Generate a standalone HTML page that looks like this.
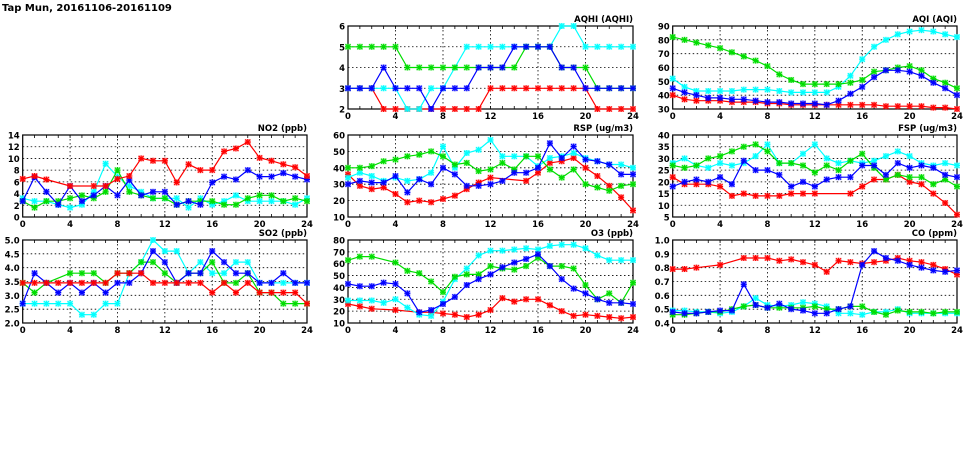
<!DOCTYPE html>
<html><head><meta charset="utf-8"><style>
body{margin:0;background:#fff;width:975px;height:447px;overflow:hidden}
svg text{font-family:"DejaVu Sans","Liberation Sans",sans-serif;font-weight:bold;fill:#000}
</style></head><body>
<svg id="c" width="975" height="447" xmlns="http://www.w3.org/2000/svg">
<text x="2" y="11" font-size="10">Tap Mun, 20161106-20161109</text>
</svg>
<script>
const hours=[0,1,2,3,4,5,6,7,8,9,10,11,12,13,14,15,16,17,18,19,20,21,22,23,24];
const xTicks=[0,4,8,12,16,20,24];
const colors={red:"#ff0000",green:"#00dd00",blue:"#0000ff",cyan:"#00ffff"};
const N=null;
// AQHI
const aqhiTicks=[2,3,4,5,6];
const aqhiGreen=[5,5,5,5,5,4,4,4,4,4,4,4,4,4,4,5,5,5,4,4,4,3,3,3,3];
const aqhiCyan=[3,3,3,3,3,2,2,3,3,4,5,5,5,5,5,5,5,5,6,6,5,5,5,5,5];
const aqhiBlue=[3,3,3,4,3,3,3,2,3,3,3,4,4,4,5,5,5,5,4,4,3,3,3,3,3];
const aqhiRed=[3,3,3,2,2,2,2,2,2,2,2,2,3,3,3,3,3,3,3,3,3,2,2,2,2];
// AQI
const aqiTicks=[30,40,50,60,70,80,90];
const aqiGreen=[82,80,78,76,74,71,68,65,61,55,51,48,48,48,48,49,51,57,58,60,61,58,52,49,45];
const aqiCyan=[52,46,43,43,43,43,44,44,44,43,42,42,42,42,46,54,66,75,80,84,86,87,86,84,82];
const aqiBlue=[45,42,40,38,38,37,37,36,35,35,34,34,34,33,36,41,46,53,58,58,57,54,49,45,40];
const aqiRed=[40,37,36,36,36,35,35,35,34,34,33,33,33,33,33,33,33,33,32,32,32,32,31,31,30];
// NO2
const no2Ticks=[0,2,4,6,8,10,12,14];
const no2Red=[6.5,7,6.4,N,5.3,N,5.3,5.3,6.5,7,10,9.6,9.6,5.9,9,8,8,11.2,11.7,12.8,10.1,9.6,9,8.5,7];
const no2Blue=[2.7,6.8,4.3,2.1,5.3,2.7,3.7,5.3,3.7,6.3,3.7,4.3,4.3,2.1,2.7,2.1,5.9,6.9,6.4,8,6.9,6.9,7.5,6.9,6.4];
const no2Green=[2.7,1.6,2.7,2.7,3.2,3.7,3.2,4.3,8,4.3,3.7,3.2,3.2,2.1,2.7,2.7,2.7,2.1,2.1,3.2,3.7,3.7,2.7,3.2,2.7];
const no2Cyan=[3.2,2.7,2.7,2.1,1.6,2.1,4.3,9.1,6.9,5.3,4.3,3.2,3.2,3.2,1.6,3.2,2.1,2.7,3.7,2.7,2.7,2.7,2.7,2.1,3.2];
// RSP
const rspTicks=[10,20,30,40,50,60];
const rspGreen=[40,40,41,44,45,47,48,50,47,42,43,38,39,43,39,47,47,39,34,39,30,28,26,29,30];
const rspCyan=[34,37,35,32,34,32,33,37,53,40,49,51,57,47,47,47,41,46,47,49,46,44,42,42,40];
const rspBlue=[30,32,31,31,35,25,33,30,40,36,29,29,30,32,37,37,40,55,46,53,45,44,42,36,36];
const rspRed=[36,29,27,28,24,19,20,19,21,23,27,31,34,N,N,32,37,43,44,46,40,35,29,22,14];
// FSP
const fspTicks=[5,10,15,20,25,30,35,40];
const fspCyan=[28,30,27,26,28,27,28,31,36,28,28,32,36,30,28,29,28,29,31,33,31,28,27,28,27];
const fspGreen=[27,26,27,30,31,33,35,36,33,28,28,27,24,27,25,29,32,26,21,23,22,22,19,21,18];
const fspBlue=[18,20,21,20,22,19,29,25,25,23,18,20,18,21,22,22,27,27,23,28,26,27,26,23,22];
const fspRed=[22,19,19,19,18,14,15,14,14,14,15,15,15,N,N,15,18,21,21,23,20,19,15,11,6];
// SO2
const so2Ticks=[2.0,2.5,3.0,3.5,4.0,4.5,5.0];
const so2Green=[3.45,3.1,3.45,N,3.8,3.8,3.8,3.45,3.8,3.8,4.2,4.2,3.8,3.45,3.8,3.8,4.2,3.45,3.45,3.8,3.1,3.1,2.7,2.7,2.7];
const so2Cyan=[2.7,2.7,2.7,2.7,2.7,2.3,2.3,2.7,2.7,3.8,4.2,5.0,4.6,4.6,3.8,4.2,3.8,3.8,4.2,4.2,3.45,3.45,3.45,3.45,3.45];
const so2Blue=[2.7,3.8,3.45,3.1,3.45,3.1,3.45,3.1,3.45,3.45,3.8,4.6,4.2,3.45,3.8,3.8,4.6,4.2,3.8,3.8,3.45,3.45,3.8,3.45,3.45];
const so2Red=[3.45,3.45,3.45,3.45,3.45,3.45,3.45,3.45,3.8,3.8,3.8,3.45,3.45,3.45,3.45,3.45,3.1,3.45,3.1,3.45,3.1,3.1,3.1,3.1,2.7];
// O3
const o3Ticks=[10,20,30,40,50,60,70,80];
const o3Green=[63,66,66,N,61,54,52,45,36,49,51,51,58,56,55,58,65,58,58,56,42,30,35,27,44];
const o3Cyan=[29,29,29,27,30,23,17,16,28,47,56,67,71,71,72,73,72,75,76,76,73,67,63,63,63];
const o3Blue=[43,41,41,44,43,35,19,21,26,32,42,47,51,57,61,64,68,58,47,39,35,30,27,27,26];
const o3Red=[26,24,22,N,21,N,19,19,18,17,15,17,21,31,28,30,30,25,20,16,17,16,15,14,15];
// CO
const coTicks=[0.4,0.5,0.6,0.7,0.8,0.9,1.0];
const coRed=[.79,.79,.80,N,.82,N,.87,.87,.87,.85,.86,.84,.82,.77,.85,.84,.83,.84,.85,.87,.85,.84,.82,.79,.75];
const coBlue=[.48,.47,.47,.48,.49,.49,.68,.53,.51,.54,.50,.49,.47,.47,.50,.52,.82,.92,.87,.85,.82,.80,.78,.77,.78];
const coCyan=[.49,.49,.48,.48,.47,.48,.52,.58,.53,.52,.53,.55,.54,.52,.47,.47,.46,.48,.48,.50,.47,.47,.47,.47,.47];
const coGreen=[.46,.46,.47,.48,.48,.50,.52,.53,.51,.51,.51,.51,.52,.50,.50,.52,.52,.48,.46,.49,.48,.48,.47,.48,.48];

const svg=document.getElementById('c');
const NS="http://www.w3.org/2000/svg";
function mk(tag,attrs,parent){const e=document.createElementNS(NS,tag);for(const k in attrs)e.setAttribute(k,attrs[k]);(parent||svg).appendChild(e);return e;}

function panel(id,title,box,ticks,dec,series){
  const [L,T,R,B]=box;
  const ymin=ticks[0],ymax=ticks[ticks.length-1];
  const xs=h=>L+(R-L)*h/24;
  const ys=v=>B-(B-T)*(v-ymin)/(ymax-ymin);
  const g=mk('g',{});
  
  
  // grid
  ticks.forEach((t,i)=>{
    const y=ys(t);
    if(i>0&&i<ticks.length-1){const l=mk('line',{x1:L,x2:R,y1:y,y2:y,stroke:'#000','stroke-width':0.8,'stroke-dasharray':'1.5,2.5'},g);
      }
    const tx=mk('text',{x:L-3,y:y+3.5,'font-size':8.5,'text-anchor':'end'},g);
    
    tx.textContent=t.toFixed(dec);
  });
  for(let h=1;h<24;h++){mk('line',{x1:xs(h),x2:xs(h),y1:B,y2:B-3,stroke:'#000','stroke-width':0.8},g);mk('line',{x1:xs(h),x2:xs(h),y1:T,y2:T+3,stroke:'#000','stroke-width':0.8},g);}
  xTicks.forEach(t=>{
    const x=xs(t);
    if(t>0&&t<24){const l=mk('line',{x1:x,x2:x,y1:T,y2:B,stroke:'#000','stroke-width':0.8,'stroke-dasharray':'1.5,2.5'},g);
      }
    const tx=mk('text',{x:x,y:B+10,'font-size':8.5,'text-anchor':'middle'},g);
    
    tx.textContent=t;
  });
  const fr=mk('rect',{x:L,y:T,width:R-L,height:B-T,fill:'none',stroke:'#000','stroke-width':1.2},g);
  
  const tt=mk('text',{x:R,y:T-4,'font-size':8.5,'text-anchor':'end'},g);
  
  tt.textContent=title;
  const cp='clip-'+id;
  const cl=mk('clipPath',{id:cp},g);mk('rect',{x:L-4,y:T-4,width:R-L+8,height:B-T+8},cl);
  series.forEach(([name,vals])=>{
    const col=colors[name];
    const pts=[];vals.forEach((v,i)=>{if(v!==null)pts.push([xs(hours[i]),ys(v)]);});
    const sg=mk('g',{'clip-path':'url(#'+cp+')'},g);
    
    const pl=mk('polyline',{points:pts.map(p=>p[0].toFixed(1)+','+p[1].toFixed(1)).join(' '),fill:'none',stroke:col,'stroke-width':1.2},sg);
    
    pts.forEach(p=>{
      const m=mk('g',{},sg);
      
      
      mk('rect',{x:p[0]-3,y:p[1]-3,width:6,height:6,fill:col,'fill-opacity':0.35},m);
      mk('path',{d:`M${p[0]-2.5},${p[1]-2.5}L${p[0]+2.5},${p[1]+2.5}M${p[0]-2.5},${p[1]+2.5}L${p[0]+2.5},${p[1]-2.5}M${p[0]-3},${p[1]}L${p[0]+3},${p[1]}M${p[0]},${p[1]-3}L${p[0]},${p[1]+3}`,stroke:col,'stroke-width':1.1},m);
    });
  });
}
const C1=[22.7,307],C2=[348,633],C3=[672.7,957];
const R1=[26,109],R2=[135,217],R3=[240,323];
panel('aqhi','AQHI (AQHI)',[C2[0],R1[0],C2[1],R1[1]],aqhiTicks,0,[['red',aqhiRed],['cyan',aqhiCyan],['green',aqhiGreen],['blue',aqhiBlue]]);
panel('aqi','AQI (AQI)',[C3[0],R1[0],C3[1],R1[1]],aqiTicks,0,[['red',aqiRed],['cyan',aqiCyan],['green',aqiGreen],['blue',aqiBlue]]);
panel('no2','NO2 (ppb)',[C1[0],R2[0],C1[1],R2[1]],no2Ticks,0,[['cyan',no2Cyan],['green',no2Green],['blue',no2Blue],['red',no2Red]]);
panel('rsp','RSP (ug/m3)',[C2[0],R2[0],C2[1],R2[1]],rspTicks,0,[['red',rspRed],['cyan',rspCyan],['green',rspGreen],['blue',rspBlue]]);
panel('fsp','FSP (ug/m3)',[C3[0],R2[0],C3[1],R2[1]],fspTicks,0,[['red',fspRed],['cyan',fspCyan],['green',fspGreen],['blue',fspBlue]]);
panel('so2','SO2 (ppb)',[C1[0],R3[0],C1[1],R3[1]],so2Ticks,1,[['cyan',so2Cyan],['green',so2Green],['blue',so2Blue],['red',so2Red]]);
panel('o3','O3 (ppb)',[C2[0],R3[0],C2[1],R3[1]],o3Ticks,0,[['red',o3Red],['cyan',o3Cyan],['green',o3Green],['blue',o3Blue]]);
panel('co','CO (ppm)',[C3[0],R3[0],C3[1],R3[1]],coTicks,1,[['cyan',coCyan],['green',coGreen],['red',coRed],['blue',coBlue]]);
</script>
</body></html>
